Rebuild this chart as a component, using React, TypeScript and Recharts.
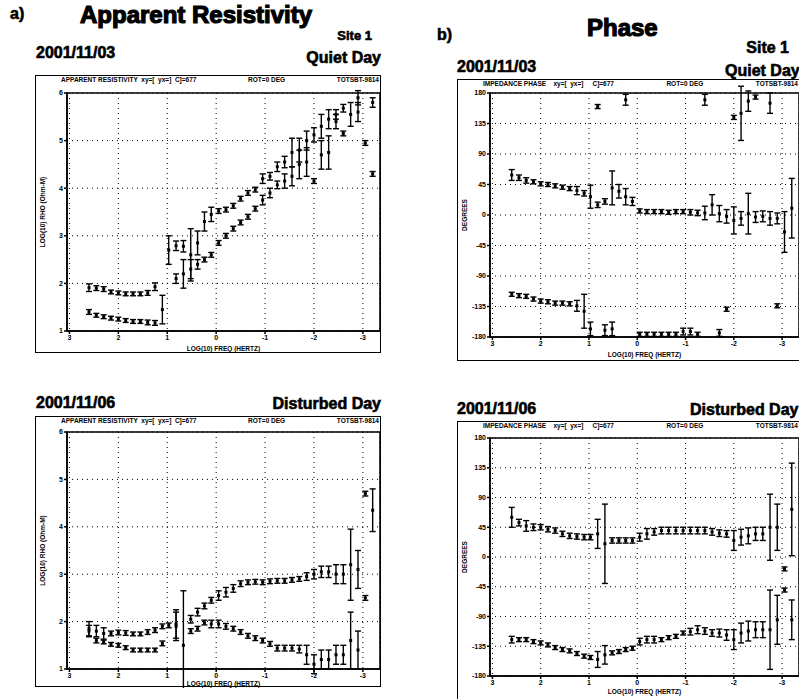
import {
  ScatterChart,
  Scatter,
  XAxis,
  YAxis,
  CartesianGrid,
  ErrorBar,
  ReferenceArea,
} from "recharts";

// log10 frequency (Hz) of each sounding
const FREQ = [
  2.6, 2.45, 2.3, 2.15, 2.0, 1.85, 1.7, 1.55, 1.4, 1.25,
  1.1, 0.97, 0.82, 0.67, 0.52, 0.38, 0.24, 0.1, -0.05, -0.2,
  -0.35, -0.5, -0.65, -0.8, -0.95, -1.1, -1.25, -1.4, -1.55, -1.7,
  -1.85, -2.0, -2.15, -2.3, -2.45, -2.6, -2.75, -2.9, -3.05, -3.2,
];

const X_TICKS = [3, 2, 1, 0, -1, -2, -3];
const RHO_TICKS = [1, 2, 3, 4, 5, 6];
const PHASE_TICKS = [-180, -135, -90, -45, 0, 45, 90, 135, 180];

// 2001/11/03 quiet day, log10 apparent resistivity
const rhoQuietXY = [
  1.91, 1.9, 1.88, 1.82, 1.8, 1.78, 1.78, 1.78, 1.8, 1.93,
  null, 2.7, 2.79, 2.78, 2.6, 2.85, 3.3, 3.45, 3.52, 3.55,
  3.63, 3.78, 3.9, 3.97, 4.2, 4.25, 4.45, 4.55, 4.75, 4.8,
  5.0, 5.12, 5.3, 5.45, 5.55, 5.68, null, 5.9, null, 5.8,
];
const rhoQuietXYErr = [
  0.08, 0.05, 0.05, 0.04, 0.04, 0.04, 0.04, 0.04, 0.05, 0.08,
  0, 0.3, 0.1, 0.12, 0.55, 0.25, 0.2, 0.15, 0.05, 0.05,
  0.05, 0.05, 0.05, 0.05, 0.1, 0.08, 0.1, 0.12, 0.3, 0.25,
  0.2, 0.15, 0.25, 0.2, 0.1, 0.08, 0, 0.15, 0, 0.1,
];
const rhoQuietYX = [
  1.4, 1.33, 1.3, 1.27, 1.25, 1.22, 1.2, 1.2, 1.18, 1.17,
  1.45, null, 2.1, 2.2, 2.3, 2.4, 2.5, 2.6, 2.85, 3.0,
  3.15, 3.28, 3.4, 3.57, 3.75, 3.9, 4.07, 4.15, 4.25, 4.5,
  4.55, 4.15, 4.7, 4.75, 5.4, 5.15, 5.55, 5.6, 4.95, 4.3,
];
const rhoQuietYXErr = [
  0.05, 0.04, 0.04, 0.04, 0.04, 0.04, 0.04, 0.04, 0.05, 0.05,
  0.3, 0, 0.1, 0.3, 0.2, 0.1, 0.05, 0.05, 0.05, 0.05,
  0.05, 0.05, 0.05, 0.05, 0.1, 0.1, 0.08, 0.15, 0.2, 0.3,
  0.3, 0.05, 0.3, 0.35, 0.15, 0.05, 0.25, 0.2, 0.05, 0.05,
];

// 2001/11/06 disturbed day, log10 apparent resistivity
const rhoDistXY = [
  1.85, 1.8, 1.75, 1.75, 1.77, 1.76, 1.74, 1.74, 1.78, 1.82,
  1.9, 1.92, 1.95, null, 2.05, 2.2, 2.33, 2.45, 2.55, 2.62,
  2.7, 2.8, 2.83, 2.84, 2.83, 2.85, 2.86, 2.86, 2.88, 2.9,
  2.95, 3.0, 3.05, 3.05, 3.0, 3.0, 3.2, 3.1, 4.7, 4.35,
];
const rhoDistXYErr = [
  0.15, 0.12, 0.12, 0.05, 0.05, 0.05, 0.04, 0.04, 0.05, 0.05,
  0.05, 0.05, 0.3, 0, 0.08, 0.08, 0.06, 0.06, 0.1, 0.1,
  0.08, 0.06, 0.05, 0.05, 0.05, 0.05, 0.05, 0.05, 0.05, 0.05,
  0.08, 0.1, 0.12, 0.12, 0.2, 0.2, 0.75, 0.4, 0.05, 0.45,
];
const rhoDistYX = [
  1.8, 1.6, 1.57, 1.52, 1.5, 1.45, 1.4, 1.4, 1.4, 1.4,
  1.54, null, 1.9, 1.5, 1.8, 1.85, 1.98, 1.95, 1.95, 1.9,
  1.85, 1.78, 1.7, 1.65, 1.6, 1.53, 1.44, 1.44, 1.44, 1.42,
  1.3, 1.1, 1.2, 1.2, 1.3, 1.3, 1.6, 1.4, 2.5, null,
];
const rhoDistYXErr = [
  0.12, 0.05, 0.04, 0.04, 0.04, 0.04, 0.04, 0.04, 0.04, 0.04,
  0.05, 0, 0.3, 1.15, 0.05, 0.05, 0.05, 0.08, 0.08, 0.06,
  0.05, 0.05, 0.05, 0.05, 0.05, 0.05, 0.06, 0.06, 0.06, 0.08,
  0.2, 0.2, 0.2, 0.2, 0.2, 0.2, 0.6, 0.4, 0.05, 0,
];

// impedance phase (degrees), quiet day
const phQuietXY = [
  59, 55, 51, 49, 46, 45, 43, 41, 39, 36,
  32, 27, 15, 20, 40, 35, 27, 20, 6, 5,
  5, 5, 4, 5, 5, 4, 3, 3, 15, 2,
  -2, -8, -5, 2, -3, -2, -5, -5, -25, 10,
];
const phQuietXYErr = [
  8, 4, 4, 3, 3, 3, 3, 3, 3, 6,
  4, 17, 4, 4, 25, 10, 12, 6, 3, 3,
  3, 3, 3, 3, 3, 4, 4, 10, 15, 12,
  10, 20, 10, 30, 8, 8, 10, 8, 30, 44,
];
const phQuietYX = [
  -117, -119, -120, -124, -127, -128, -130, -130, -131, -134,
  -142, -168, 160, -170, -168, null, 170, null, -176, -176,
  -176, -176, -176, -176, -172, -172, -176, 170, null, -174,
  -139, 144, 150, 168, 174, null, 165, -134, null, null,
];
const phQuietYXErr = [
  3, 3, 3, 3, 3, 3, 3, 3, 3, 8,
  25, 10, 3, 8, 10, 0, 8, 0, 3, 3,
  3, 3, 3, 3, 5, 5, 3, 8, 0, 5,
  3, 3, 40, 15, 3, 0, 15, 3, 0, 0,
];

// impedance phase (degrees), disturbed day
const phDistXY = [
  60, 52, 47, 45, 45, 42, 40, 35, 32, 31,
  30, 30, 35, 20, 25, 25, 25, 25, 30, 35,
  38, 40, 40, 40, 40, 40, 40, 40, 38, 36,
  35, 25, 30, 32, 35, 35, 45, 45, -18, 72,
];
const phDistXYErr = [
  15, 5, 8, 5, 4, 4, 4, 4, 4, 4,
  4, 4, 22, 60, 4, 4, 4, 4, 6, 8,
  5, 5, 5, 5, 5, 5, 5, 5, 5, 5,
  5, 15, 12, 12, 10, 10, 50, 35, 3, 70,
];
const phDistYX = [
  -125, -125, -125, -128, -130, -133, -137, -140, -142, -146,
  -150, -152, -155, -148, -145, -143, -140, -138, -128, -125,
  -125, -125, -122, -120, -115, -113, -110, -112, -115, -115,
  -118, -125, -115, -112, -110, -110, -110, -95, -50, -95,
];
const phDistYXErr = [
  5, 3, 3, 3, 3, 3, 3, 3, 3, 3,
  3, 3, 12, 14, 3, 3, 3, 3, 5, 5,
  5, 3, 3, 3, 3, 5, 6, 5, 5, 6,
  8, 15, 15, 15, 12, 12, 60, 37, 3, 30,
];

const X_DOMAIN: [number, number] = [-3.35, 3.05];

function build(vals: (number | null)[], errs: number[]) {
  return FREQ.map((f, i) => ({ f, v: vals[i], e: errs[i] })).filter(
    (d) => d.v !== null
  );
}

const Dot = (p: any) => (
  <rect x={p.cx - 1.5} y={p.cy - 1.5} width={3} height={3} fill="#000" />
);

type PanelProps = {
  left: number;
  top: number;
  width: number;
  height: number;
  frameW: number;
  frameH: number;
  mt: number;
  mb: number;
  yw: number;
  xh: number;
  labelOffset: number;
  yDomain: [number, number];
  yTicks: number[];
  yLabel: string;
  header: string[];
  xy: (number | null)[];
  xyErr: number[];
  yx: (number | null)[];
  yxErr: number[];
};

function Panel(p: PanelProps) {
  const tickStyle = { fontSize: 7, fontWeight: 700, fill: "#000" };
  return (
    <>
      <div
        style={{
          position: "absolute",
          left: p.left,
          top: p.top,
          width: p.frameW,
          height: p.frameH,
          border: "1.5px solid #000",
          boxSizing: "border-box",
        }}
      />
      <div
        style={{
          position: "absolute",
          left: p.left + 26,
          top: p.top + 1,
          width: p.width - 28,
          display: "flex",
          justifyContent: "space-between",
          fontSize: 6.5,
          fontWeight: 700,
          whiteSpace: "pre",
          lineHeight: "8px",
        }}
      >
        {p.header.map((h) => (
          <span key={h}>{h}</span>
        ))}
      </div>
      <div style={{ position: "absolute", left: p.left, top: p.top }}>
        <ScatterChart
          width={p.width}
          height={p.height}
          margin={{ top: p.mt, right: 1, left: 0, bottom: p.mb }}
        >
          <CartesianGrid stroke="#000" strokeDasharray="1 4" strokeWidth={1} />
          <XAxis
            type="number"
            dataKey="f"
            domain={X_DOMAIN}
            ticks={X_TICKS}
            reversed
            allowDataOverflow
            height={p.xh}
            tick={tickStyle}
            tickSize={3}
            tickMargin={1}
            stroke="#000"
            strokeWidth={1.5}
            label={{
              value: "LOG(10)    FREQ      (HERTZ)",
              position: "insideBottom",
              offset: p.labelOffset,
              fill: "#000",
              fontSize: 6.5,
              fontWeight: 700,
            }}
          />
          <YAxis
            type="number"
            dataKey="v"
            domain={p.yDomain}
            ticks={p.yTicks}
            allowDataOverflow
            width={p.yw}
            tick={tickStyle}
            tickSize={3}
            tickMargin={1}
            stroke="#000"
            strokeWidth={1.5}
            label={{
              value: p.yLabel,
              angle: -90,
              position: "insideLeft",
              offset: 8,
              fill: "#000",
              fontSize: 6.5,
              fontWeight: 700,
              style: { textAnchor: "middle" },
            }}
          />
          <ReferenceArea
            x1={X_DOMAIN[0]}
            x2={X_DOMAIN[1]}
            y1={p.yDomain[0]}
            y2={p.yDomain[1]}
            fill="none"
            stroke="#000"
            strokeWidth={1.5}
          />
          <Scatter
            data={build(p.xy, p.xyErr)}
            shape={Dot}
            isAnimationActive={false}
          >
            <ErrorBar
              dataKey="e"
              direction="y"
              width={3}
              stroke="#000"
              strokeWidth={1.4}
            />
          </Scatter>
          <Scatter
            data={build(p.yx, p.yxErr)}
            shape={Dot}
            isAnimationActive={false}
          >
            <ErrorBar
              dataKey="e"
              direction="y"
              width={3}
              stroke="#000"
              strokeWidth={1.4}
            />
          </Scatter>
        </ScatterChart>
      </div>
    </>
  );
}

// heavy title / caption text, stroked to look like the scanned black type
const T = (props: {
  x: number;
  y: number;
  size: number;
  children: string;
  right?: boolean;
}) => (
  <div
    style={{
      position: "absolute",
      top: props.y - props.size * 0.6,
      left: props.right ? undefined : props.x,
      right: props.right ? 799 - props.x : undefined,
      fontSize: props.size,
      fontWeight: 900,
      lineHeight: `${props.size * 1.2}px`,
      whiteSpace: "pre",
      WebkitTextStroke: props.size > 20 ? "1.2px #000" : "0.6px #000",
    }}
  >
    {props.children}
  </div>
);

const RHO_HEADER = [
  "APPARENT RESISTIVITY  xy=[  yx=]  C]=677",
  "ROT=0 DEG",
  "TOTSBT-9814",
];
const PHASE_HEADER = [
  "IMPEDANCE PHASE    xy=[  yx=]     C]=677",
  "ROT=0 DEG",
  "TOTSBT-9814",
];

export default function App() {
  return (
    <div
      style={{
        position: "absolute",
        left: 0,
        top: 0,
        width: 799,
        height: 699,
        overflow: "hidden",
        background: "#fff",
        color: "#000",
        fontFamily: "'Liberation Sans', Arial, sans-serif",
      }}
    >
      <T x={10} y={14} size={16}>a)</T>
      <T x={80} y={15} size={24}>Apparent Resistivity</T>
      <T x={372} y={36} size={13} right>Site 1</T>
      <T x={36} y={53} size={16}>2001/11/03</T>
      <T x={381} y={58} size={16} right>Quiet Day</T>
      <T x={36} y={403} size={16}>2001/11/06</T>
      <T x={381} y={404} size={16} right>Disturbed Day</T>

      <T x={437} y={35} size={16}>b)</T>
      <T x={587} y={28} size={24}>Phase</T>
      <T x={789} y={48} size={16} right>Site 1</T>
      <T x={457} y={67} size={16}>2001/11/03</T>
      <T x={725} y={71} size={16}>Quiet Day</T>
      <T x={457} y={409} size={16}>2001/11/06</T>
      <T x={690} y={410} size={16}>Disturbed Day</T>

      <Panel
        left={35}
        top={75}
        width={346}
        height={280}
        frameW={346}
        frameH={278}
        mt={18}
        mb={2}
        yw={32}
        xh={22}
        labelOffset={2}
        yDomain={[1, 6]}
        yTicks={RHO_TICKS}
        yLabel="LOG(10)  RHO  (Ohm-M)"
        header={RHO_HEADER}
        xy={rhoQuietXY}
        xyErr={rhoQuietXYErr}
        yx={rhoQuietYX}
        yxErr={rhoQuietYXErr}
      />
      <Panel
        left={35}
        top={416}
        width={346}
        height={272}
        frameW={346}
        frameH={271}
        mt={16}
        mb={1}
        yw={32}
        xh={18}
        labelOffset={1}
        yDomain={[1, 6]}
        yTicks={RHO_TICKS}
        yLabel="LOG(10)  RHO  (Ohm-M)"
        header={RHO_HEADER}
        xy={rhoDistXY}
        xyErr={rhoDistXYErr}
        yx={rhoDistYX}
        yxErr={rhoDistYXErr}
      />
      <Panel
        left={457}
        top={79}
        width={343}
        height={282}
        frameW={360}
        frameH={282}
        mt={14}
        mb={2}
        yw={33}
        xh={22}
        labelOffset={2}
        yDomain={[-180, 180]}
        yTicks={PHASE_TICKS}
        yLabel="DEGREES"
        header={PHASE_HEADER}
        xy={phQuietXY}
        xyErr={phQuietXYErr}
        yx={phQuietYX}
        yxErr={phQuietYXErr}
      />
      <Panel
        left={457}
        top={421}
        width={343}
        height={282}
        frameW={360}
        frameH={290}
        mt={17}
        mb={2}
        yw={33}
        xh={25}
        labelOffset={7}
        yDomain={[-180, 180]}
        yTicks={PHASE_TICKS}
        yLabel="DEGREES"
        header={PHASE_HEADER}
        xy={phDistXY}
        xyErr={phDistXYErr}
        yx={phDistYX}
        yxErr={phDistYXErr}
      />
    </div>
  );
}
